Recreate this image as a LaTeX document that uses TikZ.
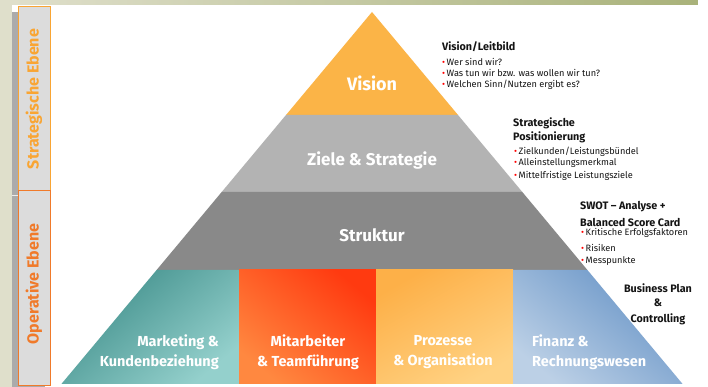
\documentclass[tikz,border=0pt]{standalone}
\usepackage{fontspec}
\setmainfont{Fira Sans}
\usetikzlibrary{shadings}
\definecolor{beige}{HTML}{DFDFCB}
\definecolor{olive}{HTML}{A9B27A}
\definecolor{stripgray}{HTML}{ABABAB}
\definecolor{boxgray}{HTML}{DCDCDC}
\definecolor{strorange}{HTML}{F9A533}
\definecolor{oporange}{HTML}{F07A2A}
\definecolor{visionor}{HTML}{FBB447}
\definecolor{zielegray}{HTML}{B3B3B3}
\definecolor{strukgray}{HTML}{898989}
\definecolor{tealdark}{HTML}{3F8E8A}
\definecolor{teallight}{HTML}{94D0CC}
\definecolor{redor}{HTML}{FF3A10}
\definecolor{redorlight}{HTML}{FF8840}
\definecolor{lorange}{HTML}{FDB048}
\definecolor{lorangelight}{HTML}{FFD283}
\definecolor{bluedark}{HTML}{6693C6}
\definecolor{bluelight}{HTML}{BCD0E6}
\definecolor{txt}{HTML}{141414}
\tikzset{
  x=1pt,y=1pt,
  layertext/.style={text=white,font=\fontsize{17}{19}\selectfont\bfseries,inner sep=0},
  basetext/.style={text=white,font=\fontsize{14.5}{20}\selectfont\bfseries,inner sep=0},
  headtext/.style={text=txt,font=\fontsize{10.8}{15}\selectfont\bfseries,inner sep=0,anchor=west},
  itemtext/.style={text=txt,font=\fontsize{9.2}{10}\selectfont,inner sep=0,anchor=west},
  sidetext/.style={font=\fontsize{16}{18}\selectfont\bfseries,inner sep=0,rotate=90},
}
\newcommand{\bul}{{\color{red}\textbullet}\,}
\begin{document}
\begin{tikzpicture}
\useasboundingbox (0,0) rectangle (708,387);
% background
\fill[beige] (0,0) rectangle (708,387);
\shade[left color=beige,right color=olive] (12,382) rectangle (698,387);
\fill[white] (12,0) rectangle (708,382);
\fill[white] (698,382) rectangle (708,387);
% left gray strip and shadow
\fill[stripgray] (12,0) rectangle (18,375);
\fill[stripgray] (12,0) rectangle (45,3);
\draw[white!85!gray,line width=0.8] (12,192) -- (18,192);
% side boxes
\draw[strorange,fill=boxgray,line width=0.8] (18,197) rectangle (50,381);
\draw[oporange,fill=boxgray,line width=0.8] (18,2) rectangle (50,197);
\node[sidetext,text=strorange] (strat) at (34,288) {Strategische Ebene};
\node[sidetext,text=oporange] (oper) at (34,103) {Operative Ebene};
% pyramid layers
\fill[visionor] (372,375) -- (458,272) -- (286,272) -- cycle;
\fill[zielegray] (286,272) -- (458,272) -- (522.3,195) -- (221.7,195) -- cycle;
\fill[strukgray] (221.7,195) -- (522.3,195) -- (587.4,117) -- (156.6,117) -- cycle;
% bottom sections
\shade[top color=tealdark,bottom color=teallight,shading angle=40]
  (156.6,117) -- (239,117) -- (239,3) -- (61.4,3) -- cycle;
\shade[top color=redor,bottom color=redorlight,shading angle=-40]
  (239,117) rectangle (376,3);
\shade[top color=lorange,bottom color=lorangelight,shading angle=30]
  (376,117) rectangle (513,3);
\shade[top color=bluedark,bottom color=bluelight,shading angle=-40]
  (513,117) -- (587.4,117) -- (682.6,3) -- (513,3) -- cycle;
% layer labels
\node[layertext,font=\fontsize{18}{20}\selectfont\bfseries] (vision) at (372,304) {Vision};
\node[layertext] (ziele) at (372,227) {Ziele \& Strategie};
\node[layertext] (struktur) at (372,152) {Struktur};
\node[basetext,align=right,anchor=east] (mkt) at (219,35) {Marketing \&\\Kundenbeziehung};
\node[basetext,align=center] (mit) at (308,35) {Mitarbeiter\\\& Teamführung};
\node[basetext,align=center] (proz) at (443,35) {Prozesse\\\& Organisation};
\node[basetext,align=left,anchor=west] (fin) at (532,35) {Finanz \&\\Rechnungswesen};
% annotations
\node[headtext] (h1) at (442,340) {Vision/Leitbild};
\node[itemtext] (h1a) at (442,325) {\bul Wer sind wir?};
\node[itemtext] (h1b) at (442,314) {\bul Was tun wir bzw. was wollen wir tun?};
\node[itemtext] (h1c) at (442,302) {\bul Welchen Sinn/Nutzen ergibt es?};
\node[headtext] (h2) at (513,264) {Strategische};
\node[headtext] (h2b) at (513,250) {Positionierung};
\node[itemtext] (h2c) at (514,235) {\bul Zielkunden/Leistungsbündel};
\node[itemtext] (h2d) at (514,224) {\bul Alleinstellungsmerkmal};
\node[itemtext] (h2e) at (514,211) {\bul Mittelfristige Leistungsziele};
\node[headtext] (h3) at (580,180) {SWOT – Analyse +};
\node[headtext] (h3b) at (580,165) {Balanced Score Card};
\node[itemtext] (h3c) at (581,154) {\bul Kritische Erfolgsfaktoren};
\node[itemtext] (h3d) at (581,139) {\bul Risiken};
\node[itemtext] (h3e) at (581,126) {\bul Messpunkte};
\node[headtext,anchor=center] (h4) at (658,99) {Business Plan};
\node[headtext,anchor=center] (h4b) at (658,84) {\&};
\node[headtext,anchor=center] (h4c) at (658,68) {Controlling};
\end{tikzpicture}
\end{document}
